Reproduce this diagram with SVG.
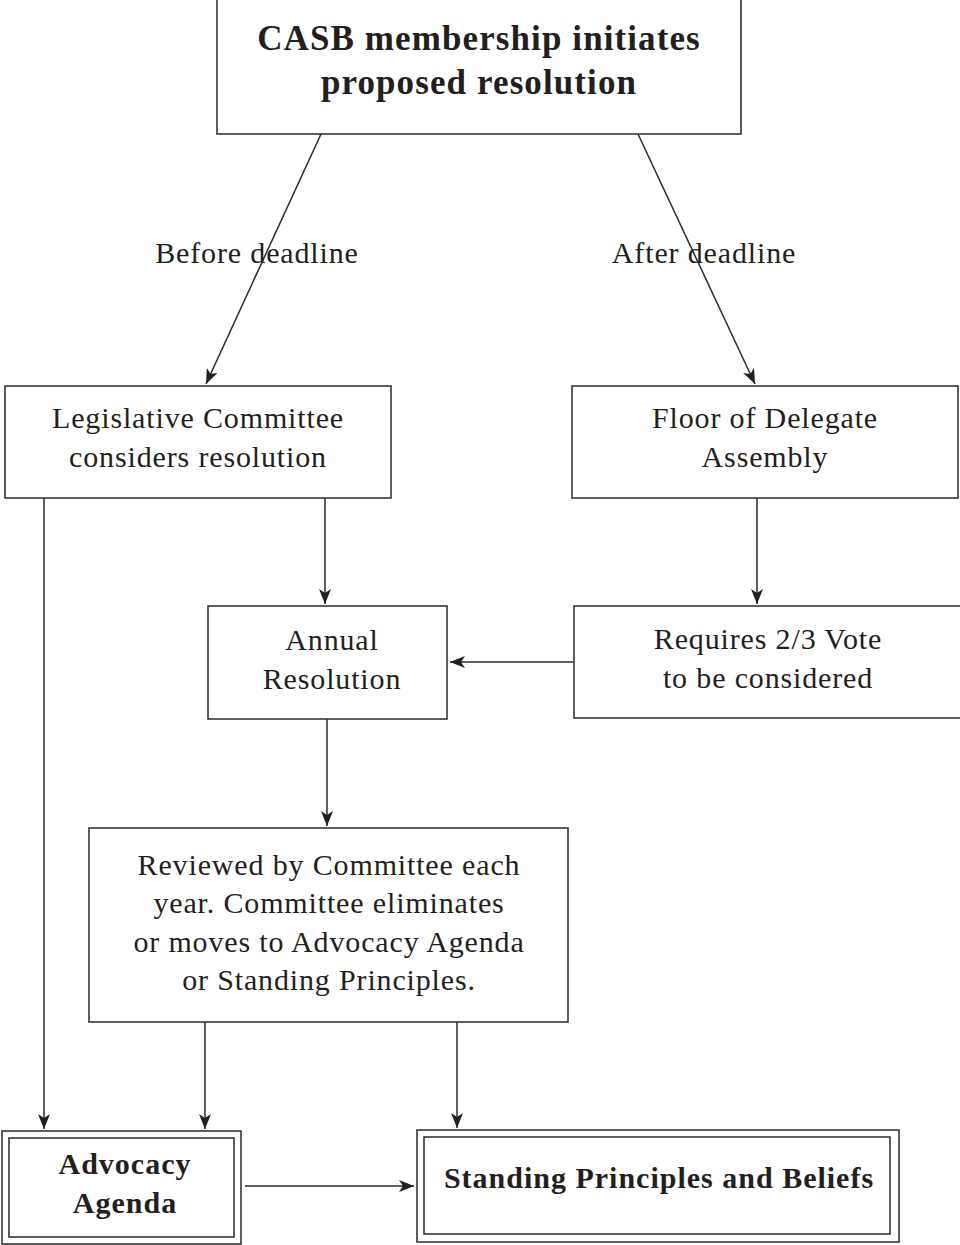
<svg xmlns="http://www.w3.org/2000/svg" width="960" height="1245" viewBox="0 0 960 1245">
<defs>
<style>
.box{fill:#fff;stroke:#2a2a2a;stroke-width:1.5}
.t{font-family:"Liberation Serif","Times New Roman",serif;font-size:30px;letter-spacing:0.85px;fill:#231f20;text-anchor:middle}
.b{font-weight:bold;letter-spacing:1px}
.h{font-size:35px;letter-spacing:1.1px}
.c{stroke:#2a2a2a;stroke-width:1.5;fill:none;marker-end:url(#ah)}
</style>
<marker id="ah" viewBox="0 0 15 12" refX="15" refY="6" markerWidth="15" markerHeight="12" markerUnits="userSpaceOnUse" orient="auto">
<path d="M0,0 L15,6 L0,12 L4,6 Z" fill="#231f20"/>
</marker>
</defs>
<rect width="960" height="1245" fill="#fff"/>
<g id="connectors">
<line class="c" x1="321" y1="134" x2="206" y2="384"/>
<line class="c" x1="638" y1="134" x2="755" y2="384"/>
<line class="c" x1="44" y1="498" x2="44" y2="1129"/>
<line class="c" x1="325" y1="498" x2="325" y2="604"/>
<line class="c" x1="757" y1="498" x2="757" y2="604"/>
<line class="c" x1="573" y1="662" x2="450" y2="662"/>
<line class="c" x1="327" y1="719" x2="327" y2="826"/>
<line class="c" x1="205" y1="1022" x2="205" y2="1129"/>
<line class="c" x1="457" y1="1022" x2="457" y2="1128"/>
<line class="c" x1="245" y1="1186" x2="414" y2="1186"/>
<text class="t" x="257" y="263">Before deadline</text>
<text class="t" x="704" y="263">After deadline</text>
</g>
<g id="n-top">
<rect class="box" x="217" y="-2" width="524" height="136"/>
<text class="t b h" x="479" y="50">CASB membership initiates</text>
<text class="t b h" x="479" y="94">proposed resolution</text>
</g>
<g id="n-legislative">
<rect class="box" x="5" y="386" width="386" height="112"/>
<text class="t" x="198" y="428">Legislative Committee</text>
<text class="t" x="198" y="467">considers resolution</text>
</g>
<g id="n-floor">
<rect class="box" x="572" y="386" width="386" height="112"/>
<text class="t" x="765" y="428">Floor of Delegate</text>
<text class="t" x="765" y="467">Assembly</text>
</g>
<g id="n-annual">
<rect class="box" x="208" y="606" width="239" height="113"/>
<text class="t" x="332" y="650">Annual</text>
<text class="t" x="332" y="689">Resolution</text>
</g>
<g id="n-requires">
<rect class="box" x="574" y="606" width="390" height="112"/>
<text class="t" x="768" y="649">Requires 2/3 Vote</text>
<text class="t" x="768" y="688">to be considered</text>
</g>
<g id="n-reviewed">
<rect class="box" x="89" y="828" width="479" height="194"/>
<text class="t" x="329" y="875">Reviewed by Committee each</text>
<text class="t" x="329" y="913">year. Committee eliminates</text>
<text class="t" x="329" y="952">or moves to Advocacy Agenda</text>
<text class="t" x="329" y="990">or Standing Principles.</text>
</g>
<g id="n-advocacy">
<rect class="box" x="2" y="1131" width="239" height="113"/>
<rect class="box" x="9" y="1138" width="225" height="99"/>
<text class="t b" x="125" y="1174">Advocacy</text>
<text class="t b" x="125" y="1213">Agenda</text>
</g>
<g id="n-standing">
<rect class="box" x="417" y="1130" width="482" height="112"/>
<rect class="box" x="424" y="1137" width="466" height="97"/>
<text class="t b" x="659" y="1188">Standing Principles and Beliefs</text>
</g>
</svg>
